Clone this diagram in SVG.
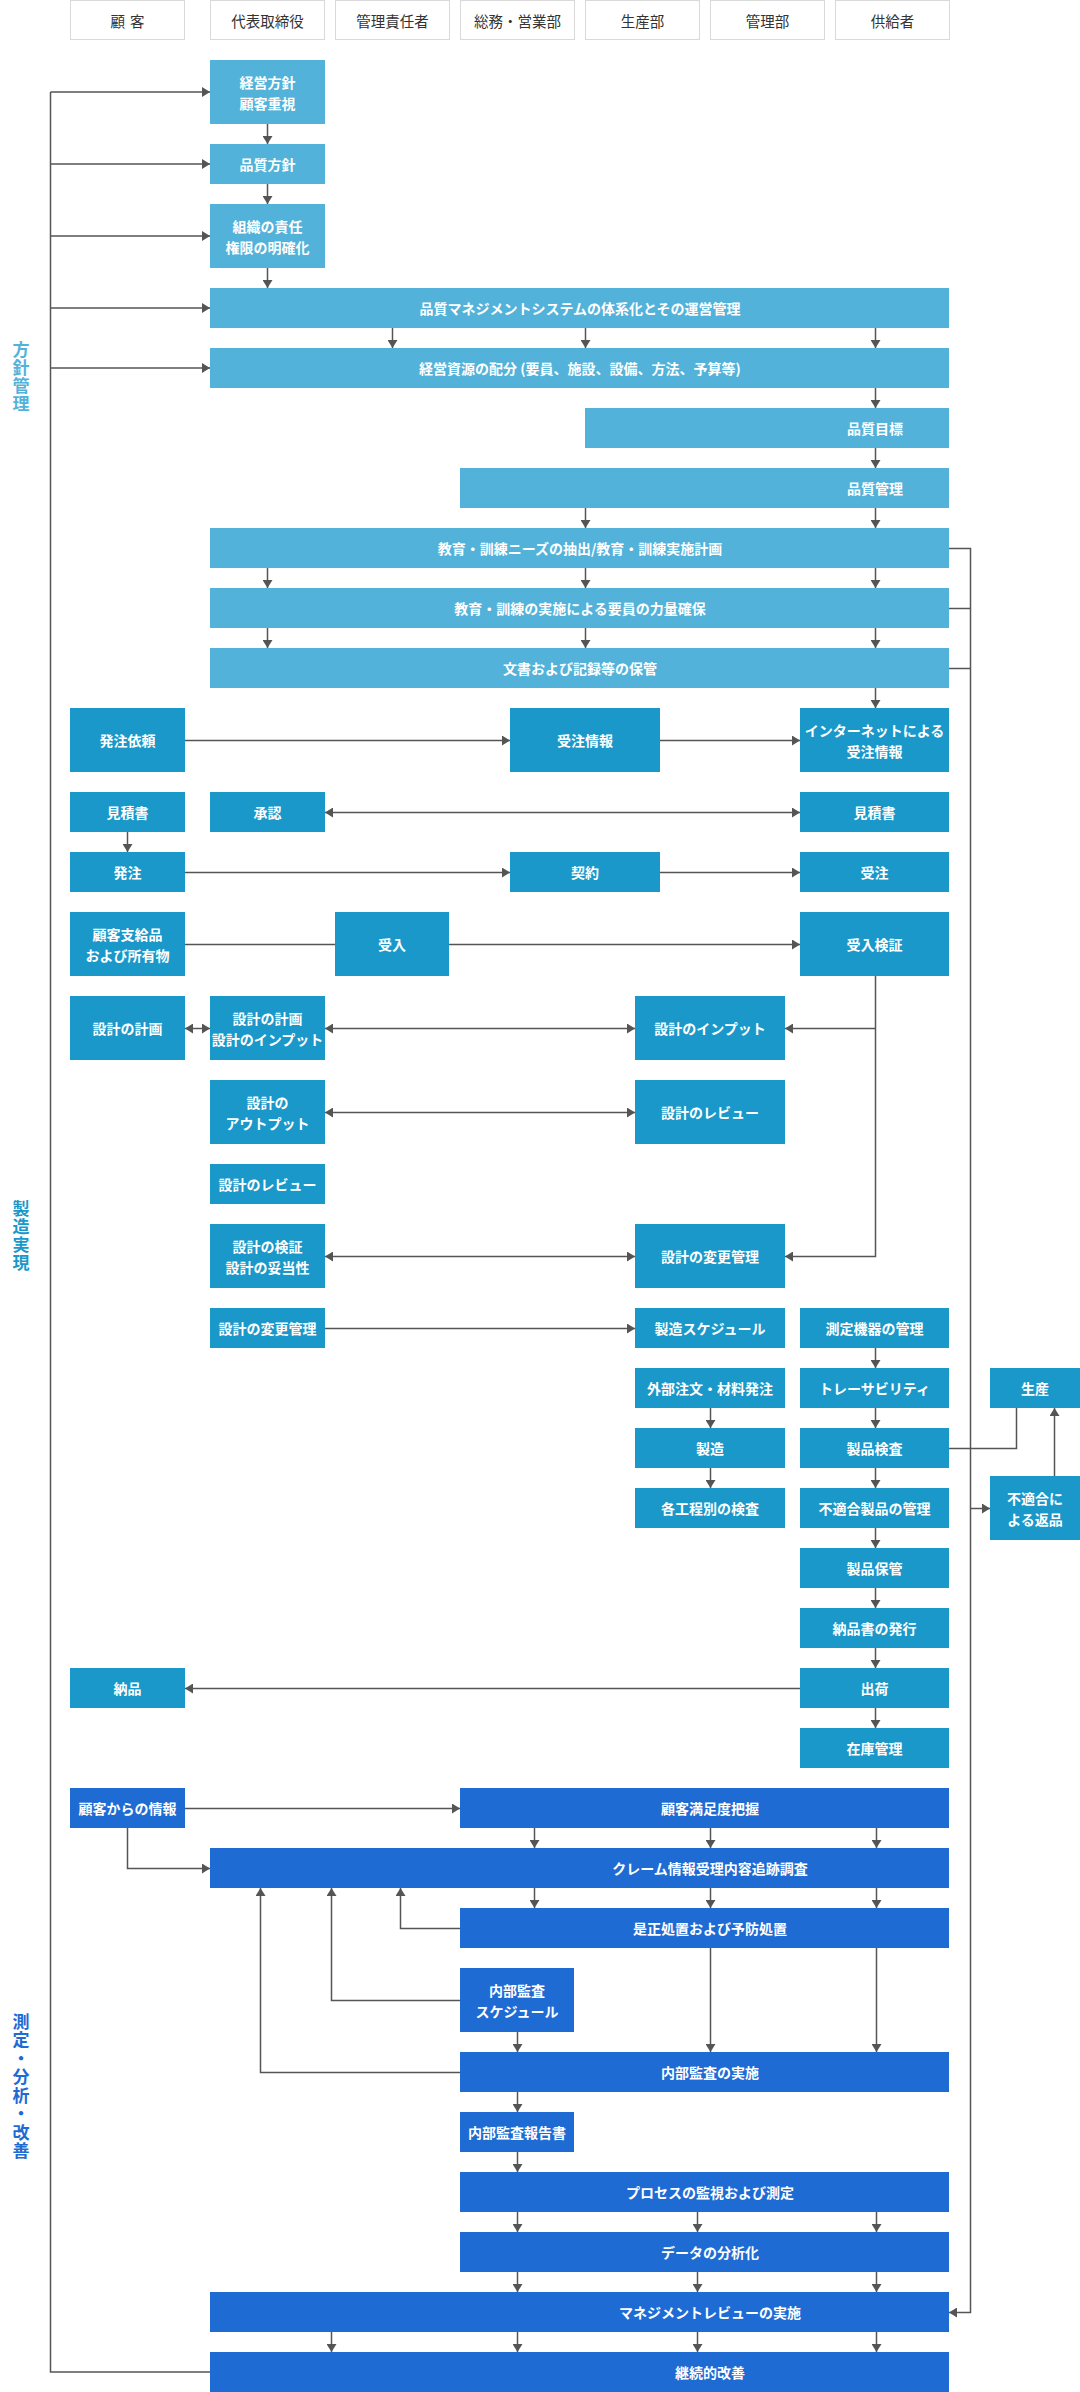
<svg xmlns="http://www.w3.org/2000/svg" width="1080" height="2392" viewBox="0 0 1080 2392">
<defs>
<style>
.hd rect{fill:#fff;stroke:#d9d9d9;stroke-width:1}
.hd text{font-family:"Noto Sans CJK JP","Noto Sans",sans-serif;font-size:14.5px;fill:#333;text-anchor:middle;dominant-baseline:central}
.n text{font-family:"Noto Sans CJK JP","Noto Sans",sans-serif;font-size:14px;font-weight:bold;fill:#fff;text-anchor:middle;dominant-baseline:central}
.g1 rect{fill:#53b2d9}
.g2 rect{fill:#1a98c9}
.g3 rect{fill:#1e6bd3}
.lab{font-family:"Noto Sans CJK JP","Noto Sans",sans-serif;font-size:17px;font-weight:bold;text-anchor:start;writing-mode:vertical-rl}
.c path{fill:none;stroke:#555;stroke-width:1.5}
.a{marker-end:url(#ah)}
.d{marker-start:url(#ah);marker-end:url(#ah)}
</style>
<marker id="ah" viewBox="0 0 8 10" markerWidth="8" markerHeight="10" refX="8" refY="5" markerUnits="userSpaceOnUse" orient="auto-start-reverse"><path d="M0,0 L8,5 L0,10 z" fill="#555"/></marker>
</defs>
<rect x="0" y="0" width="1080" height="2392" fill="#fff"/>

<g id="header" class="hd">
<g id="h1"><rect x="70.5" y="0.5" width="114" height="39"/><text x="127.5" y="20">顧<tspan dx="5">客</tspan></text></g>
<g id="h2"><rect x="210.5" y="0.5" width="114" height="39"/><text x="267.5" y="20">代表取締役</text></g>
<g id="h3"><rect x="335.5" y="0.5" width="114" height="39"/><text x="392.5" y="20">管理責任者</text></g>
<g id="h4"><rect x="460.5" y="0.5" width="114" height="39"/><text x="517.5" y="20">総務・営業部</text></g>
<g id="h5"><rect x="585.5" y="0.5" width="114" height="39"/><text x="642.5" y="20">生産部</text></g>
<g id="h6"><rect x="710.5" y="0.5" width="114" height="39"/><text x="767.5" y="20">管理部</text></g>
<g id="h7"><rect x="835.5" y="0.5" width="114" height="39"/><text x="892.5" y="20">供給者</text></g>
</g>

<g id="labels">
<text class="lab" fill="#53b2d9" x="21" y="341" letter-spacing="1">方針管理</text>
<text class="lab" fill="#1a98c9" x="21" y="1200" letter-spacing="1">製造実現</text>
<text class="lab" fill="#1e6bd3" x="21" y="2013" letter-spacing="1.5">測定・分析・改善</text>
</g>

<g id="connectors" class="c">
<path d="M210,2372 H50.5 V92"/>
<path class="a" d="M50.5,92 H210"/>
<path class="a" d="M50.5,164 H210"/>
<path class="a" d="M50.5,236 H210"/>
<path class="a" d="M50.5,308 H210"/>
<path class="a" d="M50.5,368 H210"/>
<path class="a" d="M267.5,124 V144"/>
<path class="a" d="M267.5,184 V204"/>
<path class="a" d="M267.5,268 V288"/>
<path class="a" d="M392.5,328 V348"/>
<path class="a" d="M585.5,328 V348"/>
<path class="a" d="M875.5,328 V348"/>
<path class="a" d="M875.5,388 V408"/>
<path class="a" d="M875.5,448 V468"/>
<path class="a" d="M585.5,508 V528"/>
<path class="a" d="M875.5,508 V528"/>
<path class="a" d="M267.5,568 V588"/>
<path class="a" d="M585.5,568 V588"/>
<path class="a" d="M875.5,568 V588"/>
<path class="a" d="M267.5,628 V648"/>
<path class="a" d="M585.5,628 V648"/>
<path class="a" d="M875.5,628 V648"/>
<path class="a" d="M875.5,688 V708"/>
<path class="a" d="M949,548.5 H970.5 V2312.5 H949"/>
<path d="M949,608.5 H970.5"/>
<path d="M949,668.5 H970.5"/>
<path class="a" d="M970.5,1508.5 H990"/>
<path class="a" d="M185,740.5 H510"/>
<path class="a" d="M660,740.5 H800"/>
<path class="d" d="M325,812.5 H800"/>
<path class="a" d="M127.5,832 V852"/>
<path class="a" d="M185,872.5 H510"/>
<path class="a" d="M660,872.5 H800"/>
<path d="M185,944.5 H335"/>
<path class="a" d="M449,944.5 H800"/>
<path class="a" d="M875.5,976 V1256.5 H785"/>
<path class="a" d="M875.5,1028.5 H785"/>
<path class="d" d="M185,1028.5 H210"/>
<path class="d" d="M325,1028.5 H635"/>
<path class="d" d="M325,1112.5 H635"/>
<path class="d" d="M325,1256.5 H635"/>
<path class="a" d="M325,1328.5 H635"/>
<path class="a" d="M875.5,1348 V1368"/>
<path class="a" d="M875.5,1408 V1428"/>
<path class="a" d="M875.5,1468 V1488"/>
<path class="a" d="M875.5,1528 V1548"/>
<path class="a" d="M875.5,1588 V1608"/>
<path class="a" d="M875.5,1648 V1668"/>
<path class="a" d="M875.5,1708 V1728"/>
<path class="a" d="M710.5,1408 V1428"/>
<path class="a" d="M710.5,1468 V1488"/>
<path d="M949,1448.5 H1016.5 V1408"/>
<path class="a" d="M1054.5,1476 V1408"/>
<path class="a" d="M800,1688.5 H185"/>
<path class="a" d="M185,1808.5 H460"/>
<path class="a" d="M127.5,1828 V1868.5 H210"/>
<path class="a" d="M534.5,1828 V1848"/>
<path class="a" d="M710.5,1828 V1848"/>
<path class="a" d="M876.5,1828 V1848"/>
<path class="a" d="M534.5,1888 V1908"/>
<path class="a" d="M710.5,1888 V1908"/>
<path class="a" d="M876.5,1888 V1908"/>
<path class="a" d="M460,1928.5 H400.5 V1888"/>
<path class="a" d="M460,2000.5 H331.5 V1888"/>
<path class="a" d="M460,2072.5 H260.5 V1888"/>
<path class="a" d="M517.5,2032 V2052"/>
<path class="a" d="M710.5,1948 V2052"/>
<path class="a" d="M876.5,1948 V2052"/>
<path class="a" d="M517.5,2092 V2112"/>
<path class="a" d="M517.5,2152 V2172"/>
<path class="a" d="M517.5,2212 V2232"/>
<path class="a" d="M697.5,2212 V2232"/>
<path class="a" d="M876.5,2212 V2232"/>
<path class="a" d="M517.5,2272 V2292"/>
<path class="a" d="M697.5,2272 V2292"/>
<path class="a" d="M876.5,2272 V2292"/>
<path class="a" d="M331.5,2332 V2352"/>
<path class="a" d="M517.5,2332 V2352"/>
<path class="a" d="M697.5,2332 V2352"/>
<path class="a" d="M876.5,2332 V2352"/>
</g>

<g class="n g1">
<g id="keiei"><rect x="210" y="60" width="115" height="64"/><text x="267.5" y="81.5">経営方針</text><text x="267.5" y="102.5">顧客重視</text></g>
<g id="hinshitsu-houshin"><rect x="210" y="144" width="115" height="40"/><text x="267.5" y="164">品質方針</text></g>
<g id="soshiki"><rect x="210" y="204" width="115" height="64"/><text x="267.5" y="225.5">組織の責任</text><text x="267.5" y="246.5">権限の明確化</text></g>
<g id="qms"><rect x="210" y="288" width="739" height="40"/><text x="580" y="308">品質マネジメントシステムの体系化とその運営管理</text></g>
<g id="shigen"><rect x="210" y="348" width="739" height="40"/><text x="580" y="368">経営資源の配分 (要員、施設、設備、方法、予算等)</text></g>
<g id="mokuhyo"><rect x="585" y="408" width="364" height="40"/><text x="875" y="428">品質目標</text></g>
<g id="hinshitsu-kanri"><rect x="460" y="468" width="489" height="40"/><text x="875" y="488">品質管理</text></g>
<g id="kyoiku-needs"><rect x="210" y="528" width="739" height="40"/><text x="580" y="548">教育・訓練ニーズの抽出/教育・訓練実施計画</text></g>
<g id="kyoiku-jisshi"><rect x="210" y="588" width="739" height="40"/><text x="580" y="608">教育・訓練の実施による要員の力量確保</text></g>
<g id="bunsho"><rect x="210" y="648" width="739" height="40"/><text x="580" y="668">文書および記録等の保管</text></g>
</g>

<g class="n g2">
<g id="hacchu-irai"><rect x="70" y="708" width="115" height="64"/><text x="127.5" y="740">発注依頼</text></g>
<g id="juchu-joho"><rect x="510" y="708" width="150" height="64"/><text x="585" y="740">受注情報</text></g>
<g id="internet"><rect x="800" y="708" width="149" height="64"/><text x="874.5" y="729.5">インターネットによる</text><text x="874.5" y="750.5">受注情報</text></g>
<g id="mitsumori-c"><rect x="70" y="792" width="115" height="40"/><text x="127.5" y="812">見積書</text></g>
<g id="shonin"><rect x="210" y="792" width="115" height="40"/><text x="267.5" y="812">承認</text></g>
<g id="mitsumori-s"><rect x="800" y="792" width="149" height="40"/><text x="874.5" y="812">見積書</text></g>
<g id="hacchu"><rect x="70" y="852" width="115" height="40"/><text x="127.5" y="872">発注</text></g>
<g id="keiyaku"><rect x="510" y="852" width="150" height="40"/><text x="585" y="872">契約</text></g>
<g id="juchu"><rect x="800" y="852" width="149" height="40"/><text x="874.5" y="872">受注</text></g>
<g id="shikyu"><rect x="70" y="912" width="115" height="64"/><text x="127.5" y="933.5">顧客支給品</text><text x="127.5" y="954.5">および所有物</text></g>
<g id="ukeire"><rect x="335" y="912" width="114" height="64"/><text x="392" y="944">受入</text></g>
<g id="ukeire-kensho"><rect x="800" y="912" width="149" height="64"/><text x="874.5" y="944">受入検証</text></g>
<g id="sekkei-keikaku-c"><rect x="70" y="996" width="115" height="64"/><text x="127.5" y="1028">設計の計画</text></g>
<g id="sekkei-keikaku"><rect x="210" y="996" width="115" height="64"/><text x="267.5" y="1017.5">設計の計画</text><text x="267.5" y="1038.5">設計のインプット</text></g>
<g id="sekkei-input"><rect x="635" y="996" width="150" height="64"/><text x="710" y="1028">設計のインプット</text></g>
<g id="sekkei-output"><rect x="210" y="1080" width="115" height="64"/><text x="267.5" y="1101.5">設計の</text><text x="267.5" y="1122.5">アウトプット</text></g>
<g id="sekkei-review-r"><rect x="635" y="1080" width="150" height="64"/><text x="710" y="1112">設計のレビュー</text></g>
<g id="sekkei-review-l"><rect x="210" y="1164" width="115" height="40"/><text x="267.5" y="1184">設計のレビュー</text></g>
<g id="sekkei-kensho"><rect x="210" y="1224" width="115" height="64"/><text x="267.5" y="1245.5">設計の検証</text><text x="267.5" y="1266.5">設計の妥当性</text></g>
<g id="henko-r"><rect x="635" y="1224" width="150" height="64"/><text x="710" y="1256">設計の変更管理</text></g>
<g id="henko-l"><rect x="210" y="1308" width="115" height="40"/><text x="267.5" y="1328">設計の変更管理</text></g>
<g id="schedule"><rect x="635" y="1308" width="150" height="40"/><text x="710" y="1328">製造スケジュール</text></g>
<g id="sokutei"><rect x="800" y="1308" width="149" height="40"/><text x="874.5" y="1328">測定機器の管理</text></g>
<g id="gaibu"><rect x="635" y="1368" width="150" height="40"/><text x="710" y="1388">外部注文・材料発注</text></g>
<g id="trace"><rect x="800" y="1368" width="149" height="40"/><text x="874.5" y="1388">トレーサビリティ</text></g>
<g id="seisan"><rect x="990" y="1368" width="90" height="40"/><text x="1035" y="1388">生産</text></g>
<g id="seizo"><rect x="635" y="1428" width="150" height="40"/><text x="710" y="1448">製造</text></g>
<g id="kensa"><rect x="800" y="1428" width="149" height="40"/><text x="874.5" y="1448">製品検査</text></g>
<g id="henpin"><rect x="990" y="1476" width="90" height="64"/><text x="1035" y="1497.5">不適合に</text><text x="1035" y="1518.5">よる返品</text></g>
<g id="kotei"><rect x="635" y="1488" width="150" height="40"/><text x="710" y="1508">各工程別の検査</text></g>
<g id="futekigo"><rect x="800" y="1488" width="149" height="40"/><text x="874.5" y="1508">不適合製品の管理</text></g>
<g id="hokan"><rect x="800" y="1548" width="149" height="40"/><text x="874.5" y="1568">製品保管</text></g>
<g id="nohinsho"><rect x="800" y="1608" width="149" height="40"/><text x="874.5" y="1628">納品書の発行</text></g>
<g id="nohin"><rect x="70" y="1668" width="115" height="40"/><text x="127.5" y="1688">納品</text></g>
<g id="shukka"><rect x="800" y="1668" width="149" height="40"/><text x="874.5" y="1688">出荷</text></g>
<g id="zaiko"><rect x="800" y="1728" width="149" height="40"/><text x="874.5" y="1748">在庫管理</text></g>
</g>

<g class="n g3">
<g id="kokyaku-joho"><rect x="70" y="1788" width="115" height="40"/><text x="127.5" y="1808">顧客からの情報</text></g>
<g id="manzoku"><rect x="460" y="1788" width="489" height="40"/><text x="710" y="1808">顧客満足度把握</text></g>
<g id="claim"><rect x="210" y="1848" width="739" height="40"/><text x="710" y="1868">クレーム情報受理内容追跡調査</text></g>
<g id="zesei"><rect x="460" y="1908" width="489" height="40"/><text x="710" y="1928">是正処置および予防処置</text></g>
<g id="kansa-schedule"><rect x="460" y="1968" width="114" height="64"/><text x="517" y="1989.5">内部監査</text><text x="517" y="2010.5">スケジュール</text></g>
<g id="kansa-jisshi"><rect x="460" y="2052" width="489" height="40"/><text x="710" y="2072">内部監査の実施</text></g>
<g id="kansa-hokoku"><rect x="460" y="2112" width="114" height="40"/><text x="517" y="2132">内部監査報告書</text></g>
<g id="process"><rect x="460" y="2172" width="489" height="40"/><text x="710" y="2192">プロセスの監視および測定</text></g>
<g id="data"><rect x="460" y="2232" width="489" height="40"/><text x="710" y="2252">データの分析化</text></g>
<g id="review"><rect x="210" y="2292" width="739" height="40"/><text x="710" y="2312">マネジメントレビューの実施</text></g>
<g id="kaizen"><rect x="210" y="2352" width="739" height="40"/><text x="710" y="2372">継続的改善</text></g>
</g>
</svg>
